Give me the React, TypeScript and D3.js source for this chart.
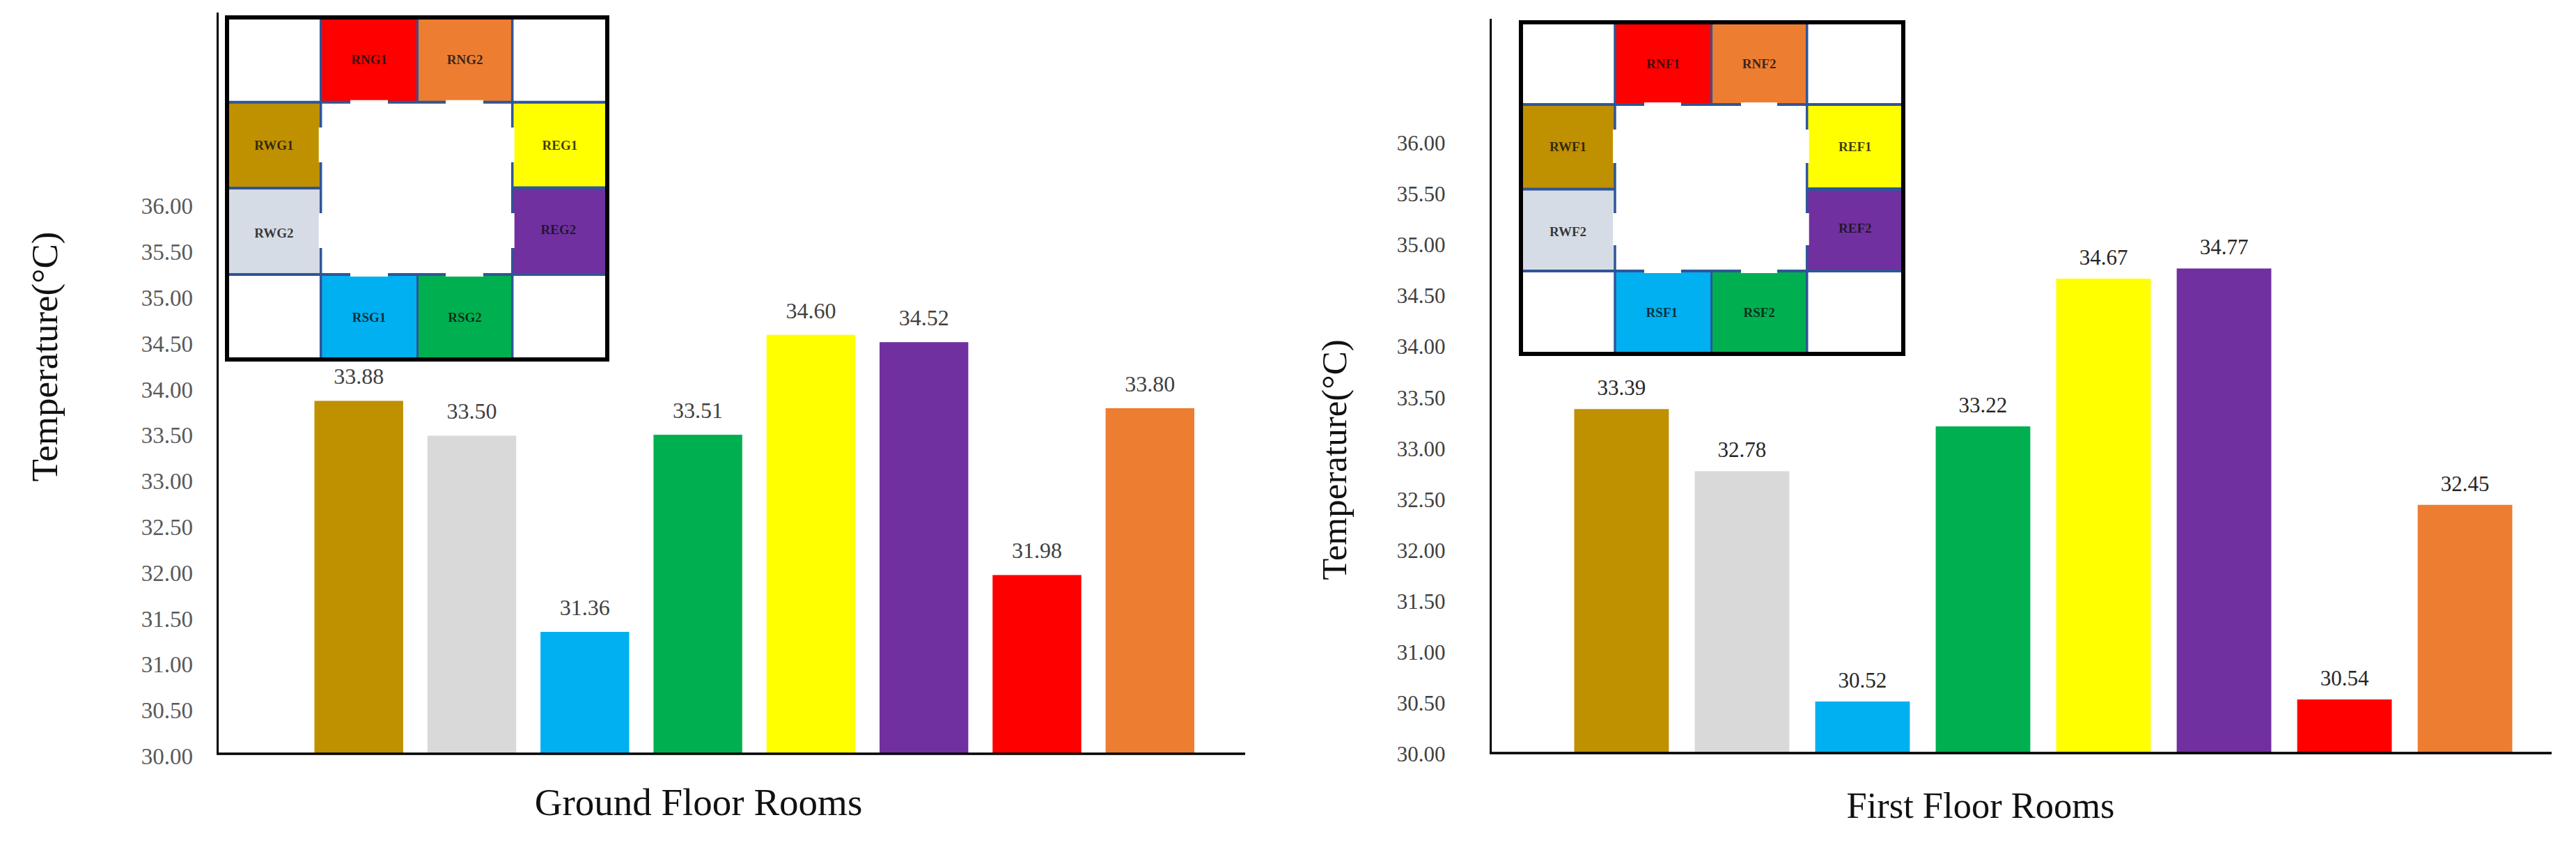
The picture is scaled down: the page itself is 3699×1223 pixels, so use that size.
import React, { useEffect, useRef } from "react";
import * as d3 from "d3";

const orientations = ["W1", "W2", "S1", "S2", "E1", "E2", "N1", "N2"];
const groundValues = [33.88, 33.5, 31.36, 33.51, 34.6, 34.52, 31.98, 33.8];
const firstValues = [33.39, 32.78, 30.52, 33.22, 34.67, 34.77, 30.54, 32.45];
const barColors = ["#BF9000", "#D9D9D9", "#00B0F0", "#00B050", "#FFFF00", "#7030A0", "#FF0000", "#ED7D31"];
const roomColors = ["#BF9000", "#D6DCE5", "#00B0F0", "#00B050", "#FFFF00", "#7030A0", "#FF0000", "#ED7D31"];
const yTicks = [30, 30.5, 31, 31.5, 32, 32.5, 33, 33.5, 34, 34.5, 35, 35.5, 36];
// grid cell (column, row) of each room on the plan
const roomCols = [0, 0, 1, 2, 3, 3, 1, 2];
const roomRows = [1, 2, 3, 3, 1, 2, 0, 0];

const FONT = "'Liberation Serif','Times New Roman',serif";
const WALL = "#2F5597";

type Panel = {
  floor: string;
  title: string;
  values: number[];
  axisX: number;
  axisTop: number;
  axisEnd: number;
  baseY: number;
  y30: number;
  y36: number;
  barStart: number;
  barEnd: number;
  tickFont: number;
  tickRight: number;
  tickColor: string;
  valFont: number;
  valGap: number;
  valColor: string;
  titleX: number;
  titleY: number;
  titleFont: number;
  yTitleX: number;
  yTitleY: number;
  yTitleFont: number;
  box: [number, number, number, number];
  colEdges: number[];
  rowEdges: number[];
  hGaps: [number, number][];
  vGaps: [number, number][];
  labelDx: number[];
  labelDy: number[];
};

const panels: Panel[] = [
  {
    floor: "G",
    title: "Ground Floor Rooms",
    values: groundValues,
    axisX: 312.5,
    axisTop: 18,
    axisEnd: 1788,
    baseY: 1081,
    y30: 1086,
    y36: 296.4,
    barStart: 451.5,
    barEnd: 1715,
    tickFont: 33,
    tickRight: 277,
    tickColor: "#595959",
    valFont: 32,
    valGap: 24,
    valColor: "#404040",
    titleX: 1003,
    titleY: 1170,
    titleFont: 55,
    yTitleX: 82,
    yTitleY: 512,
    yTitleFont: 53,
    box: [326, 25, 872, 516],
    colEdges: [326, 460.7, 599.5, 735.7, 872],
    rowEdges: [25, 146.7, 270, 394, 516],
    hGaps: [[503, 557], [640, 694]],
    vGaps: [[183, 233], [306, 356]],
    labelDx: [0, 0, 0, 0, 0, -2, 0, 0],
    labelDy: [0, 2, 0, 0, 0, -3, 0, 0],
  },
  {
    floor: "F",
    title: "First Floor Rooms",
    values: firstValues,
    axisX: 2140.6,
    axisTop: 27,
    axisEnd: 3664,
    baseY: 1080,
    y30: 1083,
    y36: 205.5,
    barStart: 2260.5,
    barEnd: 3607.5,
    tickFont: 31,
    tickRight: 2075.5,
    tickColor: "#404040",
    valFont: 31,
    valGap: 20,
    valColor: "#262626",
    titleX: 2844,
    titleY: 1174,
    titleFont: 52.5,
    yTitleX: 1933,
    yTitleY: 660,
    yTitleFont: 51,
    box: [2184, 32, 2733, 508],
    colEdges: [2184, 2319, 2457.6, 2594.7, 2733],
    rowEdges: [32, 150, 271.5, 389, 508],
    hGaps: [[2361, 2414], [2500, 2552]],
    vGaps: [[186, 234], [306, 352]],
    labelDx: [0, 0, -2, 0, 0, 0, 0, 0],
    labelDy: [0, 2, 0, 0, 0, -3, 0, 0],
  },
];

function drawPanel(root: d3.Selection<SVGGElement, unknown, null, undefined>, p: Panel) {
  const x = d3.scaleBand<string>().domain(orientations).range([p.barStart, p.barEnd]).paddingInner(0.215).paddingOuter(0);
  const y = d3.scaleLinear().domain([30, 36]).range([p.y30, p.y36]);
  const cat = (i: number) => orientations[i];

  // bars
  root.selectAll("rect.bar").data(p.values).join("rect").attr("class", "bar")
    .attr("x", (_, i) => x(cat(i))!)
    .attr("width", x.bandwidth())
    .attr("y", (d) => y(d))
    .attr("height", (d) => p.baseY - y(d))
    .attr("fill", (_, i) => barColors[i]);

  // value labels
  root.selectAll("text.val").data(p.values).join("text").attr("class", "val")
    .attr("x", (_, i) => x(cat(i))! + x.bandwidth() / 2)
    .attr("y", (d) => y(d) - p.valGap)
    .attr("text-anchor", "middle")
    .attr("font-family", FONT)
    .attr("font-size", p.valFont)
    .attr("fill", p.valColor)
    .text((d) => d.toFixed(2));

  // y axis tick labels
  const axis = d3.axisLeft(y).tickValues(yTicks).tickSize(0).tickPadding(p.axisX - p.tickRight).tickFormat((d) => (d as number).toFixed(2));
  const ag = root.append("g").attr("transform", `translate(${p.axisX},0)`).call(axis);
  ag.select(".domain").remove();
  ag.selectAll("text")
    .attr("font-family", FONT)
    .attr("font-size", p.tickFont)
    .attr("fill", p.tickColor)
    .attr("dy", null)
    .attr("y", p.tickFont * 0.32);

  // axis lines
  root.append("line").attr("x1", p.axisX).attr("x2", p.axisX).attr("y1", p.axisTop).attr("y2", p.baseY + 2).attr("stroke", "#000").attr("stroke-width", 3);
  root.append("line").attr("x1", p.axisX - 1.5).attr("x2", p.axisEnd).attr("y1", p.baseY + 1).attr("y2", p.baseY + 1).attr("stroke", "#000").attr("stroke-width", 3.5);

  // titles
  root.append("text").attr("x", p.titleX).attr("y", p.titleY).attr("text-anchor", "middle")
    .attr("font-family", FONT).attr("font-size", p.titleFont).attr("fill", "#111").text(p.title);
  root.append("text").attr("transform", `translate(${p.yTitleX},${p.yTitleY}) rotate(-90)`).attr("text-anchor", "middle")
    .attr("font-family", FONT).attr("font-size", p.yTitleFont).attr("fill", "#111").text("Temperature(°C)");

  // plan inset
  const inset = root.append("g");
  const [bx0, by0, bx1, by1] = p.box;
  const cx = p.colEdges;
  const ry = p.rowEdges;
  inset.append("rect").attr("x", bx0).attr("y", by0).attr("width", bx1 - bx0).attr("height", by1 - by0).attr("fill", "#fff");

  orientations.forEach((o, i) => {
    const c = roomCols[i];
    const r = roomRows[i];
    inset.append("rect").attr("x", cx[c]).attr("y", ry[r]).attr("width", cx[c + 1] - cx[c]).attr("height", ry[r + 1] - ry[r]).attr("fill", roomColors[i]);
  });

  const wall = (x1: number, y1: number, x2: number, y2: number, w = 4) =>
    inset.append("line").attr("x1", x1).attr("y1", y1).attr("x2", x2).attr("y2", y2).attr("stroke", WALL).attr("stroke-width", w);
  // horizontal walls
  wall(bx0, ry[1], bx1, ry[1]);
  wall(bx0, ry[2], cx[1], ry[2]);
  wall(cx[3], ry[2], bx1, ry[2], 5);
  wall(bx0, ry[3], bx1, ry[3]);
  // vertical walls
  wall(cx[1], by0, cx[1], by1, 3.5);
  wall(cx[3], by0, cx[3], by1, 3.5);
  wall(cx[2], by0, cx[2], ry[1], 3);
  wall(cx[2], ry[3], cx[2], by1, 3);

  // door openings
  [ry[1], ry[3]].forEach((wy) =>
    p.hGaps.forEach(([a, b]) => inset.append("rect").attr("x", a).attr("y", wy - 3).attr("width", b - a).attr("height", 6).attr("fill", "#fff"))
  );
  [cx[1], cx[3]].forEach((wx) =>
    p.vGaps.forEach(([a, b]) => inset.append("rect").attr("x", wx - 3).attr("y", a).attr("width", 6).attr("height", b - a).attr("fill", "#fff"))
  );

  // room labels
  orientations.forEach((o, i) => {
    const c = roomCols[i];
    const r = roomRows[i];
    const name = "R" + o[0] + p.floor + o[1];
    inset.append("text")
      .attr("x", (cx[c] + cx[c + 1]) / 2 + p.labelDx[i])
      .attr("y", (ry[r] + ry[r + 1]) / 2 + p.labelDy[i] + 6.5)
      .attr("text-anchor", "middle")
      .attr("font-family", FONT)
      .attr("font-weight", "bold")
      .attr("font-size", 19)
      .attr("fill", "#111")
      .attr("fill-opacity", 0.82)
      .text(name);
  });

  // outer frame
  inset.append("rect").attr("x", bx0).attr("y", by0).attr("width", bx1 - bx0).attr("height", by1 - by0)
    .attr("fill", "none").attr("stroke", "#000").attr("stroke-width", 6);
}

export default function App() {
  const ref = useRef<SVGSVGElement>(null);
  useEffect(() => {
    const svg = d3.select(ref.current!);
    svg.selectAll("*").remove();
    panels.forEach((p) => drawPanel(svg.append("g") as any, p));
  }, []);
  return (
    <svg
      ref={ref}
      width={3699}
      height={1223}
      viewBox="0 0 3699 1223"
      style={{ position: "absolute", left: 0, top: 0, display: "block", background: "#fff" }}
    />
  );
}
